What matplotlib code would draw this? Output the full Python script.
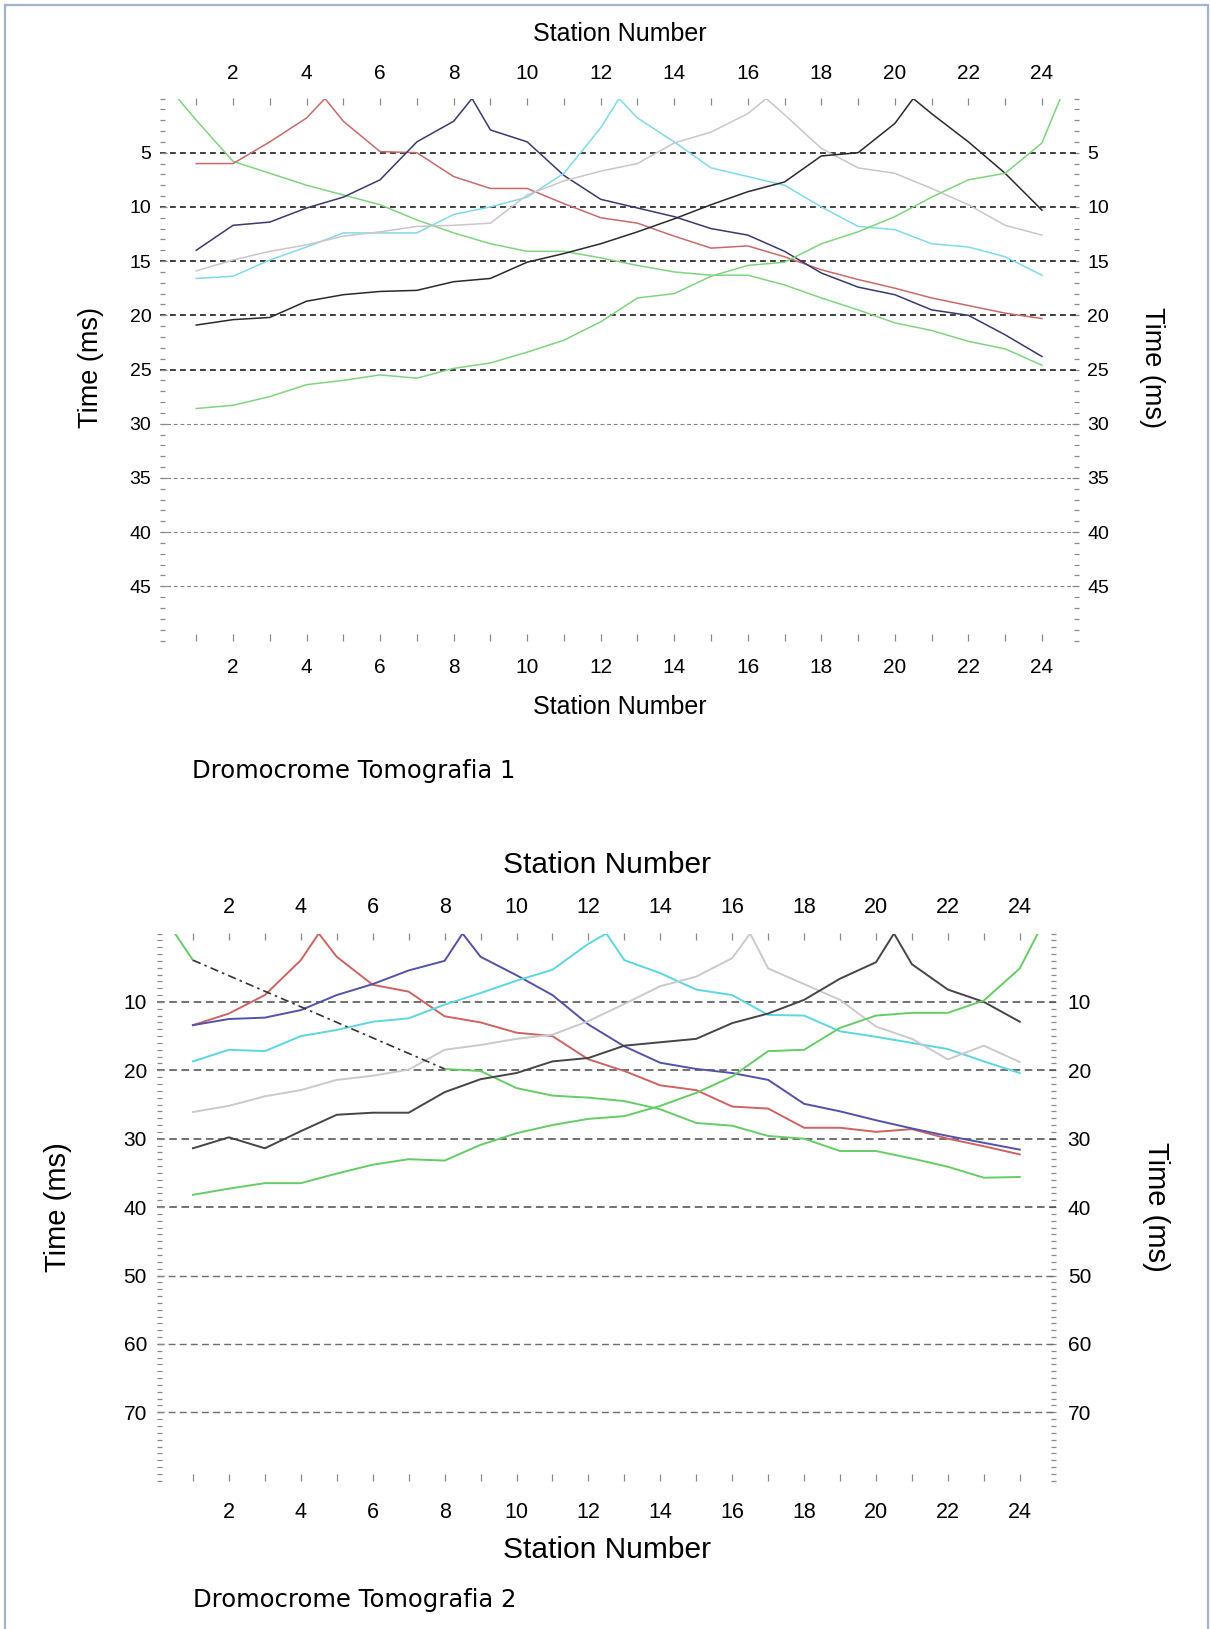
import numpy as np
import matplotlib
matplotlib.use("Agg")
import matplotlib.pyplot as plt
from matplotlib.patches import Rectangle
from matplotlib.ticker import NullFormatter

# ---------------- data ----------------
stations = list(range(1, 25))
shots = [0.5, 4.5, 8.5, 12.5, 16.5, 20.5, 24.5]
x_ticks = list(range(2, 25, 2))

# Tomografia 1 (ms)
t1_green_left = [2.0, 5.8, 6.9, 8.0, 8.9, 9.8, 11.2, 12.4, 13.4, 14.1, 14.1, 14.7,
                 15.4, 16.0, 16.3, 16.3, 17.2, 18.4, 19.5, 20.7, 21.4, 22.4, 23.1, 24.6]
t1_red = [6.0, 6.0, 4.0, 1.8, 2.1, 4.9, 5.0, 7.2, 8.3, 8.3, 9.7, 11.0,
          11.5, 12.7, 13.8, 13.6, 14.6, 15.8, 16.7, 17.5, 18.4, 19.1, 19.8, 20.3]
t1_navy = [14.0, 11.7, 11.4, 10.1, 9.1, 7.5, 4.0, 2.1, 2.9, 4.0, 7.1, 9.3,
           10.1, 10.9, 12.0, 12.6, 14.1, 16.1, 17.4, 18.1, 19.5, 20.0, 21.8, 23.8]
t1_cyan = [16.6, 16.4, 14.9, 13.7, 12.4, 12.4, 12.4, 10.7, 10.0, 9.1, 6.9, 2.7,
           1.8, 4.0, 6.4, 7.2, 8.0, 10.0, 11.8, 12.1, 13.4, 13.7, 14.6, 16.3]
t1_gray = [15.9, 14.9, 14.1, 13.5, 12.7, 12.3, 11.8, 11.7, 11.5, 8.9, 7.6, 6.7,
           6.0, 4.1, 3.1, 1.4, 1.5, 4.6, 6.4, 6.9, 8.3, 9.8, 11.7, 12.6]
t1_black = [20.9, 20.4, 20.2, 18.7, 18.1, 17.8, 17.7, 16.9, 16.6, 15.1, 14.3, 13.4,
            12.3, 11.1, 9.8, 8.6, 7.7, 5.3, 5.0, 2.3, 1.4, 4.0, 6.9, 10.3]
t1_green_right = [28.6, 28.3, 27.5, 26.4, 26.0, 25.5, 25.8, 24.9, 24.4, 23.4, 22.3, 20.6,
                  18.4, 18.0, 16.4, 15.4, 15.1, 13.4, 12.3, 10.9, 9.1, 7.5, 6.9, 4.1]

# Tomografia 2 (ms); nan = no pick (bridged by a dashed segment)
nan = float("nan")
t2_green_left = [3.9, nan, nan, nan, nan, nan, nan, 19.8, 20.1, 22.6, 23.7, 24.0,
                 24.5, 25.7, 27.7, 28.1, 29.6, 30.0, 31.8, 31.8, 32.9, 34.1, 35.7, 35.6]
t2_red = [13.4, 11.7, 9.0, 3.9, 3.4, 7.5, 8.5, 12.1, 13.0, 14.5, 15.0, 18.4,
          20.1, 22.2, 22.9, 25.3, 25.6, 28.4, 28.4, 29.0, 28.6, 30.0, 31.1, 32.3]
t2_blue = [13.4, 12.5, 12.3, 11.2, 9.0, 7.4, 5.4, 4.0, 3.4, 6.1, 9.0, 13.3,
           16.5, 18.9, 19.8, 20.4, 21.4, 24.9, 26.0, 27.3, 28.5, 29.6, 30.6, 31.6]
t2_cyan = [18.7, 17.0, 17.2, 15.0, 14.1, 12.9, 12.4, 10.4, 8.7, 6.9, 5.3, 1.5,
           3.9, 5.8, 8.2, 9.0, 11.9, 12.0, 14.3, 15.1, 16.0, 16.9, 18.7, 20.4]
t2_gray = [26.1, 25.2, 23.8, 22.9, 21.4, 20.8, 19.9, 17.0, 16.3, 15.4, 14.8, 12.8,
           10.3, 7.7, 6.3, 3.6, 5.1, 7.4, 9.7, 13.6, 15.4, 18.4, 16.4, 18.8]
t2_black = [31.4, 29.8, 31.4, 28.9, 26.5, 26.2, 26.2, 23.2, 21.3, 20.4, 18.7, 18.2,
            16.4, 15.9, 15.4, 13.1, 11.7, 9.7, 6.6, 4.2, 4.5, 8.2, 10.0, 12.9]
t2_green_right = [38.2, 37.3, 36.5, 36.5, 35.1, 33.8, 33.0, 33.2, 30.9, 29.2, 28.0, 27.1,
                  26.7, 25.2, 23.3, 20.9, 17.2, 17.0, 13.8, 12.0, 11.6, 11.6, 9.8, 5.1]

t1_curves = [t1_green_left, t1_red, t1_navy, t1_cyan, t1_gray, t1_black, t1_green_right]
t2_curves = [t2_green_left, t2_red, t2_blue, t2_cyan, t2_gray, t2_black, t2_green_right]
t1_colors = ["#7fd47f", "#c86a6a", "#3a3a6e", "#7fdbe8", "#cdc4cc", "#2a2a2a", "#7fd47f"]
t2_colors = ["#66cc66", "#d06262", "#5252a8", "#5cd6e0", "#cacaca", "#454545", "#66cc66"]

t1_grid_dark = [5, 10, 15, 20, 25]
t1_grid_light = [30, 35, 40, 45]
t2_grid_dark = [10, 20, 30, 40]
t2_grid_light = [50, 60, 70]

# ---------------- figure ----------------
W, H = 1211, 1629
fig = plt.figure(figsize=(W / 100, H / 100), dpi=100)
fig.patch.set_facecolor("white")

NARROW = ["Liberation Sans Narrow", "Liberation Sans", "DejaVu Sans"]
SANS = ["Liberation Sans", "DejaVu Sans"]


def px_axes(x0, x1, ytop, ybot):
    return fig.add_axes([x0 / W, 1 - ybot / H, (x1 - x0) / W, (ybot - ytop) / H])


def curve_xy(times, shot):
    idx = int(np.searchsorted(stations, shot))
    xs = list(stations[:idx]) + [shot] + list(stations[idx:])
    ys = list(times[:idx]) + [0.0] + list(times[idx:])
    return xs, ys


def style_axes(ax, ymax, ymajor, fam, xsize, ysize, pads, tickcol="#8a8a8a"):
    ax.set_xlim(0, 25)
    ax.set_ylim(ymax, 0)
    for s in ax.spines.values():
        s.set_visible(False)
    top = ax.secondary_xaxis("top")
    right = ax.secondary_yaxis("right")
    for s in list(top.spines.values()) + list(right.spines.values()):
        s.set_visible(False)
    for a in (ax.xaxis, top.xaxis):
        a.set_ticks(x_ticks)
        a.set_ticks(stations, minor=True)
        a.set_minor_formatter(NullFormatter())
    for a in (ax.yaxis, right.yaxis):
        a.set_ticks(ymajor)
        a.set_ticks(np.arange(0, ymax + 0.5, 1), minor=True)
        a.set_minor_formatter(NullFormatter())
    common = dict(direction="in", color=tickcol, width=0.9)
    ax.tick_params(axis="x", which="both", length=5, pad=pads[0], labelsize=xsize,
                   labelfontfamily=fam, **common)
    top.tick_params(axis="x", which="both", length=5, pad=pads[1], labelsize=xsize,
                    labelfontfamily=fam, **common)
    ax.tick_params(axis="y", which="major", length=5, pad=pads[2], labelsize=ysize,
                   labelfontfamily=fam, **common)
    ax.tick_params(axis="y", which="minor", length=3.5, **common)
    right.tick_params(axis="y", which="major", length=5, pad=pads[3], labelsize=ysize,
                      labelfontfamily=fam, **common)
    right.tick_params(axis="y", which="minor", length=3.5, **common)
    return top, right


def labels(ax, top, right, fam, xsize, ysize, bottom_y, top_y, left_x, right_x, mid_y):
    ax.set_xlabel("Station Number", family=fam, fontsize=xsize, va="center")
    ax.xaxis.set_label_coords(0.501, bottom_y, transform=ax.transAxes)
    top.set_xlabel("Station Number", family=fam, fontsize=xsize, va="center")
    top.xaxis.set_label_coords(0.501, top_y, transform=ax.transAxes)
    ax.set_ylabel("Time (ms)", family=SANS, fontsize=ysize, va="center")
    ax.yaxis.set_label_coords(left_x, mid_y, transform=ax.transAxes)
    right.set_ylabel("Time (ms)", family=SANS, fontsize=ysize, rotation=270, va="center")
    right.yaxis.set_label_coords(right_x, mid_y, transform=ax.transAxes)


# ---------- panel 1 ----------
ax1 = px_axes(159.5, 1078.7, 98.5, 640.5)
top1, right1 = style_axes(ax1, 50, list(range(5, 50, 5)), NARROW, 15, 14,
                          (12.5, 11.5, 5.8, 6.0))
for v in t1_grid_dark:
    ax1.axhline(v, color="#1e1e1e", lw=1.2, dashes=(3.5, 2.5), zorder=1)
for v in t1_grid_light:
    ax1.axhline(v, color="#858585", lw=0.8, dashes=(3.5, 2.5), zorder=1)
for times, shot, col in zip(t1_curves, shots, t1_colors):
    xs, ys = curve_xy(times, shot)
    ax1.plot(xs, ys, color=col, lw=1.1, zorder=3)
labels(ax1, top1, right1, NARROW, 18, 19.5, -0.1236, 1.119, -0.074, 1.0797, 0.5046)

# ---------- panel 2 ----------
ax2 = px_axes(157.0, 1055.75, 933.5, 1480.7)
top2, right2 = style_axes(ax2, 80, list(range(10, 80, 10)), SANS, 15.5, 15,
                          (15, 11.5, 7.2, 8.6))
for v in t2_grid_dark:
    ax2.axhline(v, color="#4a4a4a", lw=1.1, dashes=(5, 3), zorder=1)
for v in t2_grid_light:
    ax2.axhline(v, color="#6e6e6e", lw=1.0, dashes=(5, 3), zorder=1)
for times, shot, col in zip(t2_curves, shots, t2_colors):
    xs, ys = curve_xy(times, shot)
    ax2.plot(xs, ys, color=col, lw=1.4, zorder=3)
# dashed bridge over the missing picks of the first green curve
g = np.array(t2_green_left)
gap_start = next(i for i in range(len(g) - 1) if not np.isnan(g[i]) and np.isnan(g[i + 1]))
gap_end = next(i for i in range(gap_start + 1, len(g)) if not np.isnan(g[i]))
ax2.plot([stations[gap_start], stations[gap_end]], [g[gap_start], g[gap_end]],
         color="#333333", lw=1.2, dashes=(5, 2.5, 1.5, 2.5), zorder=3)
labels(ax2, top2, right2, SANS, 21.5, 21, -0.1266, 1.125, -0.110, 1.1116, 0.50)

# ---------- captions & border ----------
fig.text(192 / W, 1 - 771 / H, "Dromocrome Tomografia 1", family="DejaVu Sans",
         fontsize=17.5, va="center", ha="left")
fig.text(193 / W, 1 - 1600 / H, "Dromocrome Tomografia 2", family="DejaVu Sans",
         fontsize=17.5, va="center", ha="left")
fig.add_artist(Rectangle((5 / W, -0.01), 1203 / W, 1.01 - 5 / H, transform=fig.transFigure,
                         fill=False, edgecolor="#a3b3cf", lw=1.6))

fig.savefig("out.png", dpi=100, facecolor="white")
